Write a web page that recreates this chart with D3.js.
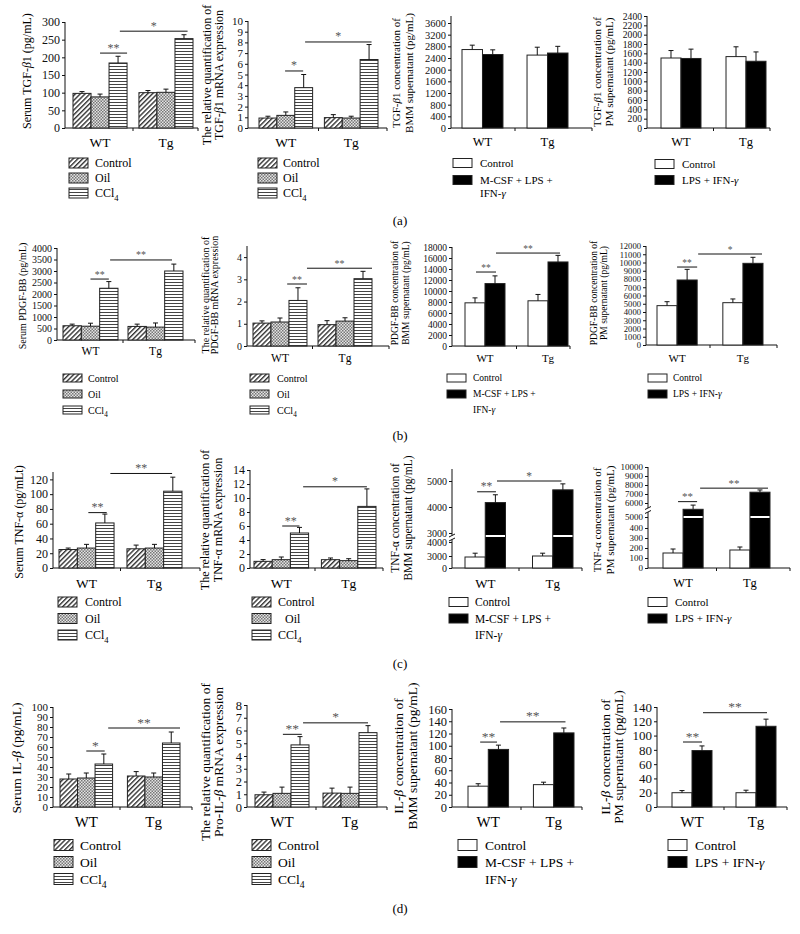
<!DOCTYPE html>
<html>
<head>
<meta charset="utf-8">
<script src="https://cdnjs.cloudflare.com/ajax/libs/d3/7.8.5/d3.min.js"></script>
<style>
  body { margin: 0; background: #fff; }
  svg { display: block; font-family: "Liberation Serif", "Times New Roman", serif; }
</style>
</head>
<body>
<svg id="fig" width="800" height="934" font-family="Liberation Serif, serif"></svg>
<script>
// ---- data ----
const groups = ['WT', 'Tg'];
const serumLegend = [['Control'], ['Oil'], ['CCl_4']];
const bmmLegend = [['Control'], ['M-CSF + LPS +', 'IFN-γ']];
const pmLegend = [['Control'], ['LPS + IFN-γ']];

// (a) TGF-β1
const tgfSerumMean = [[98, 88, 184], [100, 101, 253]];
const tgfSerumErr = [[5, 8, 19], [6, 9, 11]];
const tgfMrnaMean = [[0.93, 1.18, 3.77], [0.97, 0.93, 6.4]];
const tgfMrnaErr = [[0.17, 0.32, 1.23], [0.28, 0.17, 1.4]];
const tgfBmmMean = [[2690, 2520], [2500, 2570]];
const tgfBmmErr = [[150, 160], [270, 230]];
const tgfPmMean = [[1500, 1490], [1530, 1430]];
const tgfPmErr = [[160, 200], [210, 200]];

// (b) PDGF-BB
const pdgfSerumMean = [[620, 600, 2250], [590, 560, 3000]];
const pdgfSerumErr = [[70, 130, 290], [100, 180, 300]];
const pdgfMrnaMean = [[1.03, 1.08, 2.05], [0.96, 1.12, 3.03]];
const pdgfMrnaErr = [[0.1, 0.18, 0.57], [0.18, 0.15, 0.33]];
const pdgfBmmMean = [[7850, 11350], [8220, 15280]];
const pdgfBmmErr = [[900, 1400], [1150, 1200]];
const pdgfPmMean = [[4770, 7880], [5130, 9900]];
const pdgfPmErr = [[480, 1290], [450, 730]];

// (c) TNF-α
const tnfSerumMean = [[25, 27, 61], [26, 27, 104]];
const tnfSerumErr = [[2, 5, 12], [5, 5, 19]];
const tnfMrnaMean = [[0.95, 1.19, 5.0], [1.19, 1.05, 8.8]];
const tnfMrnaErr = [[0.25, 0.38, 0.8], [0.24, 0.28, 2.5]];
const tnfBmmMean = [[2750, 4170], [3000, 4660]];
const tnfBmmErr = [[450, 300], [200, 230]];
const tnfPmMean = [[150, 5550], [180, 7200]];
const tnfPmErr = [[40, 300], [30, 250]];

// (d) IL-β
const ilSerumMean = [[28, 29, 43], [31, 30, 64]];
const ilSerumErr = [[5, 5, 10], [4.4, 4, 11]];
const ilMrnaMean = [[0.96, 1.07, 4.87], [1.09, 1.07, 5.83]];
const ilMrnaErr = [[0.21, 0.49, 0.65], [0.39, 0.49, 0.55]];
const ilBmmMean = [[34, 94], [36.5, 121]];
const ilBmmErr = [[4, 7], [4, 8]];
const ilPmMean = [[20, 79], [20, 113]];
const ilPmErr = [[3, 6.5], [3.5, 10]];

const serumFills = ['url(#pHatch)', 'url(#pDots)', 'url(#pStripe)'];
const cellFills = ['#fff', '#000'];

// ---- layout of the 16 panels ----
const panels = [
  // (a)
  { mean: tgfSerumMean, err: tgfSerumErr, legend: serumLegend, fills: serumFills,
    x: [65, 198], bars: [73, 193, 0.18], y: [128, 22], max: 300, ticks: [300, 50], fs: 12, tfs: 12,
    ylab: { lines: ['Serum TGF-β1 (pg/mL)'], x: [27], cy: 71 }, xlabY: 142,
    leg: { x: 69, y: 163, dy: 15, tx: 95 },
    sig: [{ a: [0, 1.5], b: [0, 3], v: 212, s: '**' }, { a: [0, 2.6], b: [1, 2.7], v: 274, s: '*' }] },
  { mean: tgfMrnaMean, err: tgfMrnaErr, legend: serumLegend, fills: serumFills,
    x: [248, 387], bars: [259, 378, 0.18], y: [128, 21], max: 10, ticks: [10, 1], fs: 12, tfs: 11,
    ylab: { lines: ['The relative quantification of', 'TGF-β1 mRNA expression'], x: [207, 219], cy: 75 }, xlabY: 142,
    leg: { x: 258, y: 163, dy: 15, tx: 283 },
    sig: [{ a: [0, 1.46], b: [0, 2.47], v: 5.33, s: '*' }, { a: [0, 2.58], b: [1, 2.64], v: 8.04, s: '*' }] },
  { mean: tgfBmmMean, err: tgfBmmErr, legend: bmmLegend, fills: cellFills,
    x: [451, 592], bars: [462, 568, 0.37], y: [128, 16], max: 3840, ticks: [3600, 400], fs: 11, tfs: 10.5,
    ylab: { lines: ['TGF-β1 concentration of', 'BMM supernatant (pg/mL)'], x: [396, 409], cy: 73 }, xlabY: 142,
    leg: { x: 453, y: 163, dy: 17, lh: 13.5, tx: 480 }, sig: [] },
  { mean: tgfPmMean, err: tgfPmErr, legend: pmLegend, fills: cellFills,
    x: [647, 770], bars: [661, 766, 0.385], y: [128, 16], max: 2400, ticks: [2400, 200], fs: 11, tfs: 9.6,
    ylab: { lines: ['TGF-β1 concentration of', 'PM supernatant (pg/mL)'], x: [597, 609], cy: 72 }, xlabY: 142,
    leg: { x: 655, y: 164, dy: 16, tx: 682 }, sig: [] },
  // (b)
  { mean: pdgfSerumMean, err: pdgfSerumErr, legend: serumLegend, fills: serumFills,
    x: [57, 195], bars: [63, 183, 0.154], y: [340, 248], max: 4000, ticks: [4000, 500], fs: 10, tfs: 10,
    ylab: { lines: ['Serum PDGF-BB (pg/mL)'], x: [22], cy: 296 }, xlabY: 351,
    leg: { x: 63, y: 378, dy: 16, tx: 88 },
    sig: [{ a: [0, 1.5], b: [0, 2.5], v: 2650, s: '**' }, { a: [0, 2.57], b: [1, 2.4], v: 3480, s: '**' }] },
  { mean: pdgfMrnaMean, err: pdgfMrnaErr, legend: serumLegend, fills: serumFills,
    x: [247, 389], bars: [253, 372, 0.17], y: [346, 246], max: 4.5, ticks: [4, 1], fs: 10, tfs: 10,
    ylab: { lines: ['The relative quantification of', 'PDGF-BB mRNA expression'], x: [205, 214], cy: 295 }, xlabY: 358,
    leg: { x: 250, y: 378, dy: 16, tx: 277 },
    sig: [{ a: [0, 1.9], b: [0, 3.0], v: 2.79, s: '**' }, { a: [0, 3.0], b: [1, 3.0], v: 3.5, s: '**' }] },
  { mean: pdgfBmmMean, err: pdgfBmmErr, legend: bmmLegend, fills: cellFills,
    x: [452, 570], bars: [465, 568, 0.365], y: [346, 247], max: 18000, ticks: [18000, 2000], fs: 9.5, tfs: 9.5,
    ylab: { lines: ['PDGF-BB concentration of', 'BMM supernatant (pg/mL)'], x: [395, 406], cy: 293 }, xlabY: 358,
    leg: { x: 447, y: 378, dy: 16, tx: 473 },
    sig: [{ a: [0, 0.55], b: [0, 1.55], v: 13450, s: '**' }, { a: [0, 1.55], b: [1, 1.6], v: 16900, s: '**' }] },
  { mean: pdgfPmMean, err: pdgfPmErr, legend: pmLegend, fills: cellFills,
    x: [646, 777], bars: [657, 763, 0.39], y: [345, 246], max: 12000, ticks: [12000, 1000], fs: 9.5, tfs: 8.6,
    ylab: { lines: ['PDGF-BB concentration of', 'PM supernatant (pg/mL)'], x: [594, 604], cy: 293 }, xlabY: 358,
    leg: { x: 648, y: 378, dy: 16, tx: 673 },
    sig: [{ a: [0, 1.0], b: [0, 2.0], v: 9450, s: '**' }, { a: [0, 2.05], b: [1, 1.95], v: 11030, s: '*' }] },
  // (c)
  { mean: tnfSerumMean, err: tnfSerumErr, legend: serumLegend, fills: serumFills,
    x: [53, 200], bars: [59, 182, 0.19], y: [568, 472], max: 130, ticks: [120, 20], fs: 12, tfs: 12,
    ylab: { lines: ['Serum TNF-α (pg/mLt)'], x: [19], cy: 522 }, xlabY: 583,
    leg: { x: 58, y: 602, dy: 16.5, tx: 85 },
    sig: [{ a: [0, 1.6], b: [0, 2.6], v: 75, s: '**' }, { a: [0, 2.8], b: [1, 2.46], v: 128, s: '**' }] },
  { mean: tnfMrnaMean, err: tnfMrnaErr, legend: serumLegend, fills: serumFills, indent: [0, 7, 0],
    x: [250, 383], bars: [254, 376, 0.19], y: [568, 470], max: 14, ticks: [14, 2], fs: 12, tfs: 12,
    ylab: { lines: ['The relative quantification of', 'TNF-α mRNA expression'], x: [205, 218], cy: 520 }, xlabY: 583,
    leg: { x: 252, y: 602, dy: 16.5, tx: 278 },
    sig: [{ a: [0, 1.55], b: [0, 2.5], v: 6.0, s: '**' }, { a: [0, 2.7], b: [1, 2.5], v: 11.6, s: '*' }] },
  { mean: tnfBmmMean, err: tnfBmmErr, legend: bmmLegend, fills: cellFills,
    x: [452, 582], bars: [465, 573, 0.4], y: [568, 469], fs: 11.5, tfs: 10,
    broken: { lo: { domain: [0, 3000, 4000], range: [568, 556, 542], ticks: [0, 3000, 4000] },
              hi: { domain: [3000, 5000], range: [533, 481], ticks: [3000, 4000, 5000] },
              breakY: 537.5, whiteY: 536 },
    ylab: { lines: ['TNF-α concentration of', 'BMM supernatant (pg/mL)'], x: [395, 408], cy: 518 }, xlabY: 583,
    leg: { x: 449, y: 602, dy: 16.5, tx: 475 },
    sig: [{ a: [0, 0.6], b: [0, 1.53], v: 4585, s: '**' }, { a: [0, 1.58], b: [1, 1.43], v: 5000, s: '*' }] },
  { mean: tnfPmMean, err: tnfPmErr, legend: pmLegend, fills: cellFills,
    x: [648, 790], bars: [663, 770, 0.4], y: [568, 467], fs: 11, tfs: 9,
    broken: { lo: { domain: [0, 500], range: [568, 518], ticks: [0, 100, 200, 300, 400] },
              hi: { domain: [5000, 6000, 10000], range: [517, 503, 467], ticks: [5000, 6000, 7000, 8000, 9000, 10000] },
              breakY: 510, whiteY: 517 },
    ylab: { lines: ['TNF-α concentration of', 'PM supernatant (pg/mL)'], x: [597, 610], cy: 520 }, xlabY: 583,
    leg: { x: 648, y: 602, dy: 16.5, tx: 675 },
    sig: [{ a: [0, 0.75], b: [0, 1.7], v: 6150, s: '**' }, { a: [0, 1.85], b: [1, 1.9], v: 7650, s: '**' }] },
  // (d)
  { mean: ilSerumMean, err: ilSerumErr, legend: serumLegend, fills: serumFills,
    x: [53, 192], bars: [60, 180, 0.22], y: [807, 707], max: 100, ticks: [100, 10], fs: 13.5, tfs: 11,
    ylab: { lines: ['Serum IL-β (pg/mL)'], x: [16], cy: 758 }, xlabY: 822,
    leg: { x: 54, y: 845, dy: 17, tx: 80 },
    sig: [{ a: [0, 1.5], b: [0, 2.55], v: 56, s: '*' }, { a: [0, 2.75], b: [1, 3.0], v: 79, s: '**' }] },
  { mean: ilMrnaMean, err: ilMrnaErr, legend: serumLegend, fills: serumFills,
    x: [247, 387], bars: [255, 377, 0.206], y: [807, 705], max: 8, ticks: [8, 1], fs: 13.5, tfs: 12.5,
    ylab: { lines: ['The relative quantification of', 'Pro-IL-β mRNA expression'], x: [205, 218], cy: 762 }, xlabY: 822,
    leg: { x: 252, y: 845, dy: 17, tx: 278 },
    sig: [{ a: [0, 1.55], b: [0, 2.6], v: 5.7, s: '**' }, { a: [0, 2.67], b: [1, 2.5], v: 6.6, s: '*' }] },
  { mean: ilBmmMean, err: ilBmmErr, legend: bmmLegend, fills: cellFills,
    x: [452, 582], bars: [468, 574, 0.38], y: [807, 709], max: 160, ticks: [160, 20], fs: 13.5, tfs: 12.5,
    ylab: { lines: ['IL-β concentration of', 'BMM supernatant (pg/mL)'], x: [398, 412], cy: 756 }, xlabY: 822,
    leg: { x: 458, y: 845, dy: 17, tx: 485 },
    sig: [{ a: [0, 0.6], b: [0, 1.43], v: 106, s: '**' }, { a: [0, 1.58], b: [1, 1.58], v: 139, s: '**' }] },
  { mean: ilPmMean, err: ilPmErr, legend: pmLegend, fills: cellFills,
    x: [657, 787], bars: [672, 776, 0.375], y: [807, 707], max: 140, ticks: [140, 20], fs: 13.5, tfs: 13,
    ylab: { lines: ['IL-β concentration of', 'PM supernatant (pg/mL)'], x: [605, 618], cy: 757 }, xlabY: 822,
    leg: { x: 668, y: 845, dy: 17, tx: 695 },
    sig: [{ a: [0, 0.55], b: [0, 1.5], v: 91, s: '**' }, { a: [0, 1.55], b: [1, 1.55], v: 132, s: '**' }] }
];

const rowTags = [['(a)', 220], ['(b)', 435], ['(c)', 663], ['(d)', 908]];

// ---- drawing ----
const svg = d3.select('#fig');
const defs = svg.append('defs');

const hatch = defs.append('pattern').attr('id', 'pHatch')
  .attr('patternUnits', 'userSpaceOnUse').attr('width', 3.4).attr('height', 3.4)
  .attr('patternTransform', 'rotate(45)');
hatch.append('rect').attr('width', 3.4).attr('height', 3.4).attr('fill', '#fff');
hatch.append('line').attr('x1', 0.7).attr('y1', 0).attr('x2', 0.7).attr('y2', 3.4)
  .attr('stroke', '#333').attr('stroke-width', 1.4);

const dots = defs.append('pattern').attr('id', 'pDots')
  .attr('patternUnits', 'userSpaceOnUse').attr('width', 3).attr('height', 3);
dots.append('rect').attr('width', 3).attr('height', 3).attr('fill', '#e4e4e4');
dots.append('rect').attr('width', 1.5).attr('height', 1.5).attr('fill', '#777');
dots.append('rect').attr('x', 1.5).attr('y', 1.5).attr('width', 1.5).attr('height', 1.5).attr('fill', '#777');

const stripe = defs.append('pattern').attr('id', 'pStripe')
  .attr('patternUnits', 'userSpaceOnUse').attr('width', 4).attr('height', 3);
stripe.append('rect').attr('width', 4).attr('height', 3).attr('fill', '#fff');
stripe.append('line').attr('x1', 0).attr('y1', 0.5).attr('x2', 4).attr('y2', 0.5)
  .attr('stroke', '#444').attr('stroke-width', 1);

// text with italic greek letters and a trailing subscript (e.g. CCl_4)
function rich(sel, str, fs) {
  str.split(/(_\d|β|γ)/).filter(s => s).forEach(s => {
    if (s[0] === '_') {
      sel.append('tspan').attr('font-size', fs * 0.72).attr('dy', fs * 0.3).text(s.slice(1));
    } else if (s === 'β' || s === 'γ') {
      sel.append('tspan').attr('font-style', 'italic').text(s);
    } else {
      sel.append('tspan').text(s);
    }
  });
}

function drawPanel(p) {
  const g = svg.append('g').attr('font-size', p.fs);
  const n = p.mean[0].length;
  const x = d3.scaleBand().domain(groups).range([p.bars[0], p.bars[1]]).paddingInner(p.bars[2]);
  const xs = d3.scaleBand().domain(d3.range(n)).range([0, x.bandwidth()]);
  const bw = xs.bandwidth();
  const yBase = p.y[0];

  let yFor, ySig;
  const axisG = g.append('g').attr('transform', `translate(${p.x[0]},0)`);
  const mkAxis = (sc, tv) => d3.axisLeft(sc).tickValues(tv).tickSize(3).tickSizeOuter(0)
    .tickPadding(2).tickFormat(d3.format('d'));
  if (p.broken) {
    const lo = d3.scaleLinear().domain(p.broken.lo.domain).range(p.broken.lo.range);
    const hi = d3.scaleLinear().domain(p.broken.hi.domain).range(p.broken.hi.range);
    yFor = i => (i === 0 ? lo : hi);
    ySig = hi;
    axisG.append('g').call(mkAxis(lo, p.broken.lo.ticks));
    axisG.append('g').call(mkAxis(hi, p.broken.hi.ticks));
  } else {
    const y = d3.scaleLinear().domain([0, p.max]).range(p.y);
    yFor = () => y;
    ySig = y;
    axisG.append('g').call(mkAxis(y, d3.range(0, p.ticks[0] + p.ticks[1] / 2, p.ticks[1])));
  }
  axisG.selectAll('g').attr('font-family', null).attr('font-size', null);
  axisG.attr('font-size', p.tfs);
  axisG.selectAll('.domain').remove();
  axisG.selectAll('.tick line').attr('stroke', '#111');
  axisG.selectAll('.tick text').attr('fill', '#111');
  axisG.append('line').attr('x1', 0).attr('x2', 0).attr('y1', yBase).attr('y2', p.y[1])
    .attr('stroke', '#111');

  // x axis
  g.append('line').attr('x1', p.x[0]).attr('x2', p.x[1]).attr('y1', yBase).attr('y2', yBase)
    .attr('stroke', '#111');
  const midX = (x('WT') + x.bandwidth() + x('Tg')) / 2;
  g.selectAll('.xtick').data([midX, p.x[1]]).join('line')
    .attr('x1', d => d).attr('x2', d => d).attr('y1', yBase).attr('y2', yBase + 3).attr('stroke', '#111');

  g.selectAll('.xlab').data(groups).join('text')
    .attr('x', d => x(d) + x.bandwidth() / 2).attr('y', p.xlabY).attr('dy', '0.35em')
    .attr('text-anchor', 'middle').attr('font-size', p.fs + 1.5).text(d => d);

  // bars
  const rows = groups.flatMap((gn, gi) => p.mean[gi].map((m, si) => ({ gn, gi, si, m, e: p.err[gi][si] })));
  g.append('g').selectAll('rect').data(rows).join('rect')
    .attr('x', d => x(d.gn) + xs(d.si)).attr('width', bw)
    .attr('y', d => yFor(d.si)(d.m)).attr('height', d => yBase - yFor(d.si)(d.m))
    .attr('fill', d => p.fills[d.si]).attr('stroke', '#222').attr('stroke-width', 1);

  if (p.broken) {
    g.append('g').selectAll('rect').data(rows.filter(d => d.si > 0)).join('rect')
      .attr('x', d => x(d.gn) + xs(d.si) + 0.5).attr('width', bw - 1)
      .attr('y', p.broken.whiteY - 1).attr('height', 2).attr('fill', '#fff');
    // axis break mark
    const bx = p.x[0], by = p.broken.breakY;
    g.append('rect').attr('x', bx - 1).attr('y', by - 2).attr('width', 2).attr('height', 4).attr('fill', '#fff');
    g.selectAll('.brk').data([-2, 2]).join('line')
      .attr('x1', bx - 3).attr('x2', bx + 3).attr('y1', d => by + d + 1.5).attr('y2', d => by + d - 1.5)
      .attr('stroke', '#111').attr('stroke-width', 1);
  }

  // error bars
  const eg = g.append('g').attr('stroke', '#111').attr('stroke-width', 1);
  rows.forEach(d => {
    const cx = x(d.gn) + xs(d.si) + bw / 2;
    const yt = yFor(d.si)(d.m + d.e);
    eg.append('line').attr('x1', cx).attr('x2', cx).attr('y1', yFor(d.si)(d.m)).attr('y2', yt);
    eg.append('line').attr('x1', cx - 2.5).attr('x2', cx + 2.5).attr('y1', yt).attr('y2', yt);
  });

  // significance lines
  p.sig.forEach(s => {
    const xa = x(groups[s.a[0]]) + s.a[1] * bw;
    const xb = x(groups[s.b[0]]) + s.b[1] * bw;
    const yy = ySig(s.v);
    g.append('line').attr('x1', xa).attr('x2', xb).attr('y1', yy).attr('y2', yy).attr('stroke', '#111');
    g.append('text').attr('x', (xa + xb) / 2).attr('y', yy - 1.5).attr('text-anchor', 'middle')
      .attr('fill', '#555').attr('font-size', p.fs).text(s.s);
  });

  // y label
  p.ylab.lines.forEach((t, i) => {
    const tx = g.append('text')
      .attr('transform', `translate(${p.ylab.x[i]},${p.ylab.cy}) rotate(-90)`)
      .attr('text-anchor', 'middle').attr('dy', '0.35em');
    rich(tx, t, p.fs);
  });

  // legend
  const L = p.leg, lh = L.lh || L.dy, rh = Math.round(p.fs * 0.8);
  let ry = L.y;
  p.legend.forEach((lines, i) => {
    g.append('rect').attr('x', L.x).attr('y', ry - rh / 2).attr('width', 19).attr('height', rh)
      .attr('fill', p.fills[i]).attr('stroke', '#222');
    lines.forEach((t, j) => {
      const tx = g.append('text').attr('x', L.tx + (p.indent ? p.indent[i] : 0)).attr('y', ry + j * lh)
        .attr('dy', '0.35em');
      rich(tx, t, p.fs);
    });
    ry += L.dy + (lines.length - 1) * lh;
  });
}

panels.forEach(drawPanel);

svg.selectAll('.tag').data(rowTags).join('text')
  .attr('x', 400).attr('y', d => d[1]).attr('dy', '0.35em').attr('text-anchor', 'middle')
  .attr('font-size', 13).text(d => d[0]);
</script>
</body>
</html>
